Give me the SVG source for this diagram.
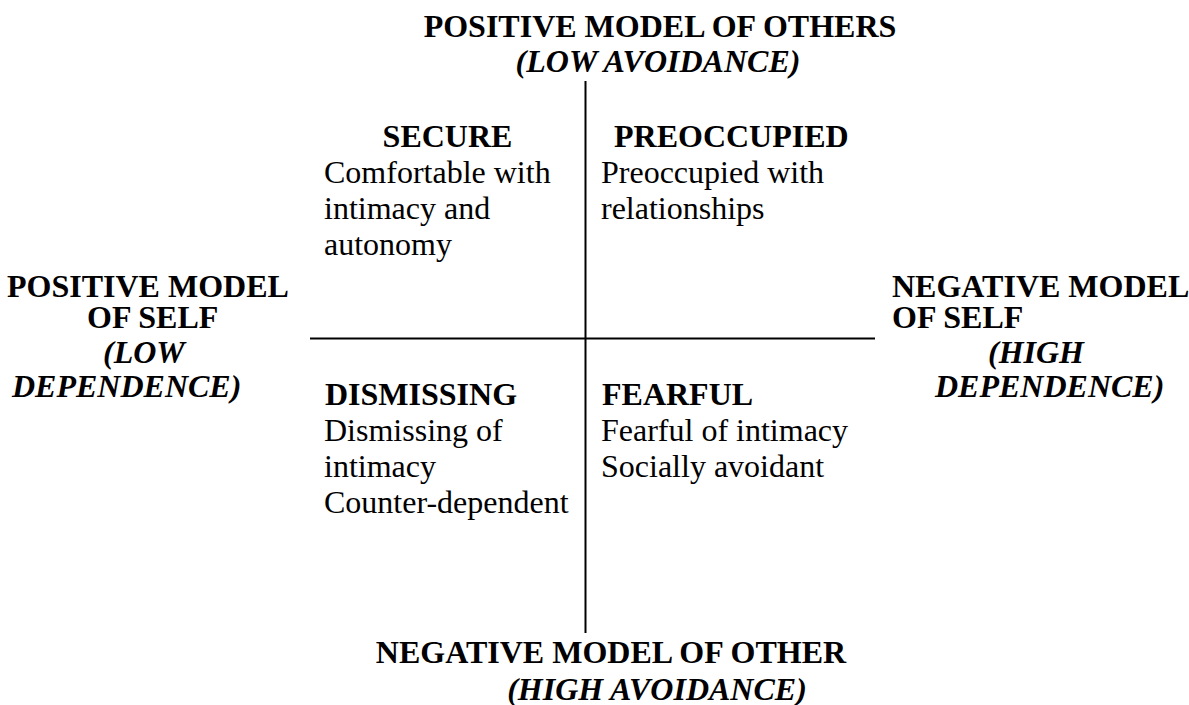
<svg xmlns="http://www.w3.org/2000/svg" width="1189" height="705" viewBox="0 0 1189 705">
<style>
text{font-family:"Liberation Serif","Times New Roman",serif;font-size:32px;fill:#000}
.b{font-weight:bold}
.bi{font-weight:bold;font-style:italic}
.c{text-anchor:middle}
.ax{stroke:#000;stroke-width:2;fill:none}
</style>
<rect width="1189" height="705" fill="#fff"/>
<g id="connectors">
<line class="ax" x1="585.5" y1="81" x2="585.5" y2="633"/>
<line class="ax" x1="310" y1="338.5" x2="875" y2="338.5"/>
</g>
<g id="top">
<text class="b c" x="660" y="37">POSITIVE MODEL OF OTHERS</text>
<text class="bi c" x="658" y="72">(LOW AVOIDANCE)</text>
</g>
<g id="bottom">
<text class="b c" x="611" y="663">NEGATIVE MODEL OF OTHER</text>
<text class="bi c" x="657" y="700">(HIGH AVOIDANCE)</text>
</g>
<g id="left">
<text class="b" x="7" y="297">POSITIVE MODEL</text>
<text class="b" x="87" y="328">OF SELF</text>
<text class="bi" x="103" y="363">(LOW</text>
<text class="bi" x="12" y="397">DEPENDENCE)</text>
</g>
<g id="right">
<text class="b" x="892" y="297">NEGATIVE MODEL</text>
<text class="b" x="892" y="328">OF SELF</text>
<text class="bi" x="988" y="363">(HIGH</text>
<text class="bi" x="935" y="397">DEPENDENCE)</text>
</g>
<g id="secure">
<text class="b c" x="447.5" y="147">SECURE</text>
<text x="324" y="183">Comfortable with</text>
<text x="324" y="219">intimacy and</text>
<text x="324" y="255">autonomy</text>
</g>
<g id="preoccupied">
<text class="b" x="614" y="147">PREOCCUPIED</text>
<text x="601" y="183">Preoccupied with</text>
<text x="601" y="219">relationships</text>
</g>
<g id="dismissing">
<text class="b" x="325" y="405">DISMISSING</text>
<text x="324" y="441">Dismissing of</text>
<text x="324" y="477">intimacy</text>
<text x="324" y="513">Counter-dependent</text>
</g>
<g id="fearful">
<text class="b" x="602" y="405">FEARFUL</text>
<text x="601" y="441">Fearful of intimacy</text>
<text x="601" y="477">Socially avoidant</text>
</g>
</svg>
